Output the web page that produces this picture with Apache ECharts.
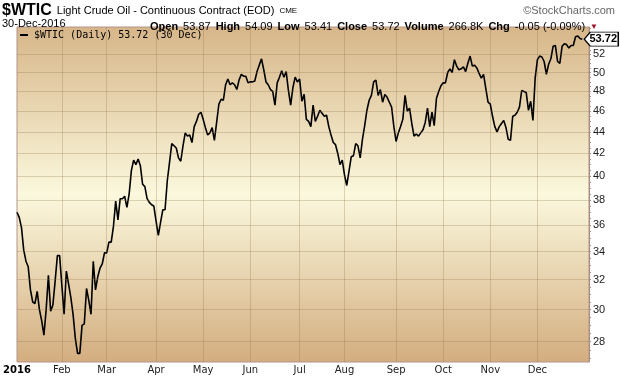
<!DOCTYPE html>
<html>
<head>
<meta charset="utf-8">
<script src="https://cdn.jsdelivr.net/npm/echarts@6/dist/echarts.min.js"></script>
<style>
html, body { margin: 0; padding: 0; background: #fff; }
#chart { width: 620px; height: 376px; }
</style>
</head>
<body>
<div id="chart"></div>
<script>
// closes, one array per month (first point is 31-Dec-2015)
const dec2015 = [37.0];
const jan = [36.6, 35.8, 34.1, 33.3, 32.9, 31.3, 30.5, 30.4, 31.2, 30.0, 29.3, 28.4, 30.0, 32.3, 29.9, 30.3, 31.9, 33.7, 33.7];
const feb = [31.6, 29.7, 32.6, 31.7, 30.8, 29.7, 28.2, 27.3, 27.3, 29.0, 29.1, 31.4, 30.6, 29.7, 33.3, 31.3, 32.2, 32.8, 33.1, 33.9];
const mar = [33.9, 34.7, 34.7, 35.9, 37.9, 36.4, 38.1, 38.1, 38.3, 37.4, 38.5, 40.5, 41.4, 41.0, 41.5, 40.9, 39.3, 39.1, 38.1, 37.8, 37.6, 37.5];
const apr = [36.3, 35.2, 36.2, 37.2, 37.2, 39.6, 41.2, 42.9, 42.7, 42.5, 41.6, 41.3, 42.7, 43.9, 43.6, 43.7, 43.0, 44.5, 45.0, 45.7, 45.9];
const may = [45.2, 44.4, 43.7, 43.9, 44.4, 43.2, 44.9, 46.7, 47.2, 47.1, 48.7, 49.3, 48.7, 48.9, 48.7, 48.2, 49.2, 49.8, 49.6, 49.6, 48.9];
const jun = [49.0, 49.0, 49.1, 50.1, 50.8, 51.5, 50.3, 49.0, 48.7, 48.2, 48.0, 46.6, 48.9, 49.5, 50.2, 49.5, 50.1, 48.1, 46.6, 48.4, 49.5, 49.0];
const jul = [49.3, 47.0, 47.7, 45.2, 45.0, 44.5, 46.6, 45.0, 45.5, 46.1, 45.8, 45.5, 45.6, 44.5, 43.7, 43.0, 42.8, 42.0, 41.0, 41.4];
const aug = [40.1, 39.2, 40.4, 41.7, 41.8, 42.9, 42.7, 41.6, 43.3, 44.6, 46.1, 47.1, 47.6, 49.0, 49.2, 47.6, 48.2, 46.9, 47.7, 47.4, 46.9, 46.4, 44.5];
const sep = [43.1, 43.9, 44.5, 45.2, 47.6, 46.0, 46.3, 44.8, 43.6, 43.8, 43.6, 43.9, 44.2, 44.9, 46.3, 44.5, 45.9, 44.6, 47.3, 48.0, 48.6];
const oct = [48.9, 48.9, 50.0, 50.4, 50.0, 51.4, 50.7, 50.3, 50.4, 50.6, 50.1, 51.0, 51.8, 50.7, 50.8, 50.5, 49.9, 49.4, 49.8, 48.3, 46.9];
const nov = [46.7, 45.5, 44.5, 44.0, 44.5, 44.8, 45.1, 44.4, 43.3, 43.2, 45.5, 45.6, 45.9, 46.4, 48.1, 48.0, 47.9, 46.1, 47.0, 45.1, 49.4];
const dec = [51.4, 51.8, 51.7, 51.2, 49.8, 50.9, 51.5, 52.9, 53.0, 51.2, 51.0, 52.9, 53.2, 53.1, 52.7, 53.0, 53.0, 54.0, 54.1, 53.8, 53.72];

const closes = [].concat(dec2015, jan, feb, mar, apr, may, jun, jul, aug, sep, oct, nov, dec);

const monthNames = ["Jan", "Feb", "Mar", "Apr", "May", "Jun", "Jul", "Aug", "Sep", "Oct", "Nov", "Dec"];
const priceTicks = [28, 30, 32, 34, 36, 38, 40, 42, 44, 46, 48, 50, 52];
const holidays = ["2016-01-01", "2016-01-18", "2016-02-15", "2016-03-25", "2016-05-30", "2016-07-04", "2016-09-05", "2016-11-24", "2016-12-26"];

// trading days 31-Dec-2015 .. 30-Dec-2016
const days = [];
let d = new Date(Date.UTC(2015, 11, 31));
const last = new Date(Date.UTC(2016, 11, 30));
while (d <= last) {
	const s = d.toISOString().slice(0, 10);
	const wd = d.getUTCDay();
	if (wd !== 0 && wd !== 6 && holidays.indexOf(s) < 0) days.push(s);
	d.setUTCDate(d.getUTCDate() + 1);
}
// a little empty room on the right like the original
const cats = days.concat(["", "", ""]);

// year label sits on the first point, months Feb..Dec on their first trading day
const isMonthStart = function (idx) {
	if (idx === 0) return true;
	const a = cats[idx], b = cats[idx - 1];
	if (!a || !b) return false;
	if (a.slice(5, 7) === "01") return false;
	return a.slice(5, 7) !== b.slice(5, 7);
};

// small ticks on the price axis
const minorTicks = [];
for (let v = 27; v <= 55; v += 0.5) minorTicks.push(v);

const lastIdx = closes.length - 1;
const lastVal = closes[lastIdx];

const chart = echarts.init(document.getElementById("chart"));

const option = {
	animation: false,
	backgroundColor: "#fff",
	textStyle: { fontFamily: "Liberation Sans" },
	title: [
		{
			left: 2, top: 2, padding: 0,
			text: "{a|$WTIC} {b|Light Crude Oil - Continuous Contract (EOD)} {c|CME}",
			textStyle: {
				fontWeight: "normal",
				rich: {
					a: { fontFamily: "Liberation Sans", fontWeight: "bold", fontSize: 16, color: "#000" },
					b: { fontFamily: "Liberation Sans", fontWeight: "normal", fontSize: 11, color: "#000" },
					c: { fontFamily: "Liberation Sans", fontWeight: "normal", fontSize: 8, color: "#000" }
				}
			}
		},
		{
			right: 5, top: 5, padding: 0,
			text: "©StockCharts.com",
			textStyle: { fontFamily: "Liberation Sans", fontSize: 11, fontWeight: "normal", color: "#666" }
		},
		{
			left: 2, top: 18, padding: 0,
			text: "30-Dec-2016",
			textStyle: { fontFamily: "Liberation Sans", fontSize: 11, fontWeight: "normal", color: "#000" }
		},
		{
			left: 150, top: 18, padding: 0,
			text: "{k|Open} {v|53.87} {k|High} {v|54.09} {k|Low} {v|53.41} {k|Close} {v|53.72} {k|Volume} {v|266.8K} {k|Chg} {v|-0.05 (-0.09%)} {r|▼}",
			textStyle: {
				fontWeight: "normal",
				rich: {
					k: { fontFamily: "Liberation Sans", fontWeight: "bold", fontSize: 11, color: "#000" },
					v: { fontFamily: "Liberation Sans", fontWeight: "normal", fontSize: 11, color: "#000" },
					r: { fontWeight: "normal", fontSize: 8, color: "#a0102a" }
				}
			}
		}
	],
	legend: {
		left: 20, top: 30, padding: 0,
		itemWidth: 8, itemHeight: 2, itemGap: 4,
		icon: "rect",
		data: ["$WTIC"],
		formatter: function () {
			return "$WTIC (Daily) " + lastVal.toFixed(2) + " (30 Dec)";
		},
		textStyle: { fontFamily: "DejaVu Sans Mono", fontSize: 10, color: "#000", padding: [0, 0, 0, 1] }
	},
	grid: {
		left: 17, right: 31, top: 27, bottom: 14,
		show: true,
		borderColor: "#b3948a",
		borderWidth: 1,
		backgroundColor: new echarts.graphic.LinearGradient(0, 0, 0, 1, [
			{ offset: 0, color: "#d7b689" },
			{ offset: 0.5, color: "#fbf8dd" },
			{ offset: 1, color: "#d3ad7f" }
		])
	},
	xAxis: {
		type: "category",
		data: cats,
		boundaryGap: false,
		axisLine: { show: false },
		axisTick: { show: false },
		axisLabel: {
			interval: function (idx) { return isMonthStart(idx); },
			showMinLabel: true,
			formatter: function (val) {
				if (val === cats[0]) return "{y|2016}";
				return monthNames[parseInt(val.slice(5, 7), 10) - 1];
			},
			margin: 3,
			fontFamily: "DejaVu Sans",
			fontSize: 10,
			color: "#222",
			rich: { y: { fontFamily: "DejaVu Sans", fontWeight: "bold", fontSize: 10, color: "#000" } }
		},
		splitLine: {
			show: true,
			interval: function (idx) { return idx > 0 && isMonthStart(idx); },
			lineStyle: { color: "rgba(140,110,70,0.28)", width: 1 }
		}
	},
	yAxis: {
		type: "log",
		logBase: 10,
		min: 26.8,
		max: 55.15,
		position: "right",
		axisLine: { show: true, lineStyle: { color: "#a88f84" } },
		axisTick: { show: true, customValues: minorTicks, length: 2, lineStyle: { color: "#a88f84" } },
		axisLabel: {
			customValues: priceTicks,
			formatter: function (v) { return String(Math.round(v)); },
			margin: 4,
			fontFamily: "Liberation Sans",
			fontSize: 11,
			color: "#222"
		},
		splitLine: { show: false }
	},
	series: [
		{
			name: "$WTIC",
			type: "line",
			data: closes,
			showSymbol: false,
			symbol: "none",
			color: "#000",
			lineStyle: { color: "#000", width: 1.6 },
			markLine: {
				silent: true,
				symbol: "none",
				label: { show: false },
				lineStyle: { color: "rgba(140,110,70,0.28)", width: 1, type: "solid" },
				data: priceTicks.map(function (v) { return { yAxis: v }; })
			},
			markPoint: {
				silent: true,
				symbol: "path://M0,6 L6,0 L34,0 L34,12 L6,12 Z",
				symbolSize: [34, 14],
				symbolOffset: [19, 0],
				itemStyle: { color: "#fff", borderColor: "#000", borderWidth: 1 },
				label: {
					show: true,
					position: "inside",
					offset: [2, 0],
					formatter: function (p) { return p.value.toFixed(2); },
					fontFamily: "Liberation Sans",
					fontWeight: "bold",
					fontSize: 11,
					color: "#000"
				},
				data: [{ coord: [lastIdx, lastVal], value: lastVal }]
			}
		}
	]
};

chart.setOption(option);
</script>
</body>
</html>
